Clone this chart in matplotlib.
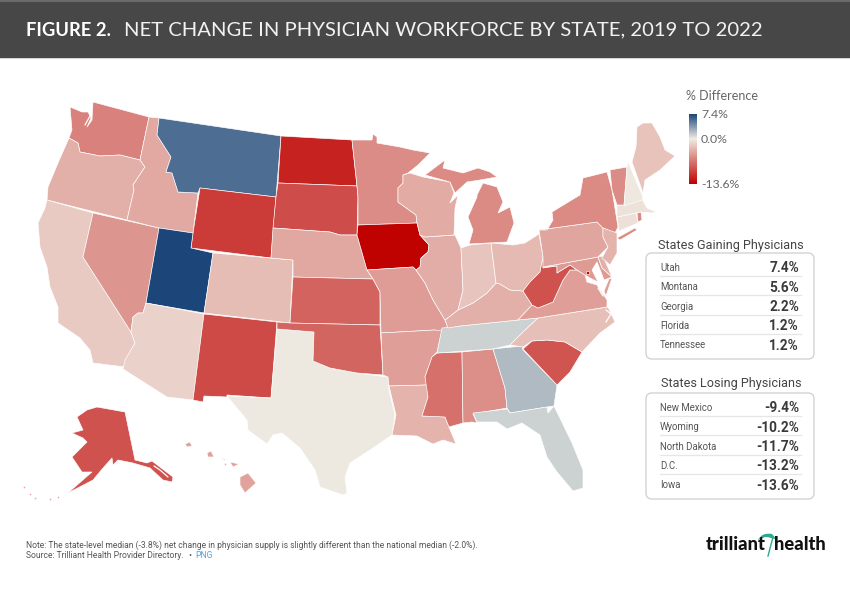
"""Net change in physician workforce by state, 2019 to 2022 (choropleth + top/bottom tables)."""
import numpy as np
import matplotlib
matplotlib.use('Agg')
import matplotlib.pyplot as plt
from matplotlib.colors import LinearSegmentedColormap, Normalize
from matplotlib.patches import FancyBboxPatch, Polygon, Rectangle, PathPatch
from matplotlib.path import Path

# ── Data ─────────────────────────────────────────────────────────────────────

STATES = ['WA', 'OR', 'CA', 'NV', 'ID', 'MT', 'WY', 'UT', 'CO', 'AZ', 'NM', 'TX',
          'ND', 'SD', 'NE', 'KS', 'OK', 'MN', 'IA', 'MO', 'AR', 'LA', 'MS', 'AL',
          'TN', 'KY', 'IL', 'IN', 'OH', 'WI', 'MI', 'GA', 'FL', 'SC', 'NC', 'VA',
          'WV', 'MD', 'DE', 'PA', 'NY', 'NJ', 'CT', 'RI', 'MA', 'VT', 'NH', 'ME',
          'AK', 'HI', 'DC']
PCT_DIFF = [-6.2, -3.5, -2.0, -5.0, -3.9, 5.6, -10.2, 7.4, -2.7, -1.5, -9.4, -0.2,
            -11.7, -9.2, -4.0, -7.9, -7.8, -5.5, -13.6, -4.6, -4.5, -3.3, -7.2, -5.4,
            1.2, -3.5, -3.6, -2.2, -2.9, -3.7, -5.7, 2.2, 1.2, -8.7, -2.6, -4.5,
            -8.9, -4.7, -3.5, -4.1, -5.7, -3.3, -0.7, -5.7, -0.6, -5.5, -0.3, -2.4,
            -8.9, -4.3, -13.2]

GAIN_NAMES = ['Utah', 'Montana', 'Georgia', 'Florida', 'Tennessee']
GAIN_VALUES = ['7.4%', '5.6%', '2.2%', '1.2%', '1.2%']
LOSE_NAMES = ['New Mexico', 'Wyoming', 'North Dakota', 'D.C.', 'Iowa']
LOSE_VALUES = ['-9.4%', '-10.2%', '-11.7%', '-13.2%', '-13.6%']

VMIN, VMID, VMAX = -13.6, 0.0, 7.4

# state outlines, in image pixels (no geodata available here)
OUTLINES = {
    'WA': [[(93, 102), (149, 117), (140, 160), (120, 155), (100, 156), (80, 152), (78, 143), (69, 138),
            (72, 130), (70, 107), (82, 112), (88, 112), (91, 118), (87, 127), (92, 120)]],
    'OR': [[(69, 138), (78, 143), (80, 152), (100, 156), (120, 155), (140, 160), (145, 167), (133, 185),
            (134, 190), (127, 220), (47, 200), (48, 187), (58, 163)]],
    'CA': [[(47, 200), (93, 213), (83, 257), (131, 332), (135, 343), (127, 358), (125, 367), (93, 363),
            (90, 350), (80, 338), (58, 323), (58, 307), (50, 287), (47, 267), (40, 247), (38, 223), (45, 208)]],
    'NV': [[(93, 213), (159, 228), (146, 303), (143, 313), (138, 313), (133, 317), (131, 332), (83, 257)]],
    'ID': [[(149, 117), (159, 118), (157, 135), (171, 157), (166, 172), (172, 173), (178, 192), (198, 193),
            (193, 233), (159, 228), (127, 220), (134, 190), (133, 185), (145, 167), (140, 160)]],
    'MT': [[(159, 118), (281, 136), (276, 197), (200, 188), (198, 193), (178, 192), (172, 173), (166, 172),
            (171, 157), (157, 135)]],
    'WY': [[(200, 188), (276, 197), (271, 258), (191, 248), (193, 233)]],
    'UT': [[(159, 228), (193, 233), (191, 248), (213, 253), (204, 313), (146, 303)]],
    'CO': [[(213, 253), (293, 260), (290, 323), (204, 313)]],
    'AZ': [[(133, 317), (138, 313), (143, 313), (146, 303), (204, 314), (193, 400), (167, 397), (123, 369),
            (125, 360), (135, 343), (131, 332)]],
    'NM': [[(204, 314), (277, 322), (271, 398), (227, 395), (227, 397), (204, 396), (203, 402), (193, 400)]],
    'TX': [[(277, 329), (314, 332), (313, 361), (330, 368), (357, 373), (388, 377), (389, 390), (395, 415),
            (392, 435), (373, 448), (350, 463), (345, 477), (347, 493), (343, 495), (320, 487), (315, 470),
            (300, 448), (282, 433), (273, 435), (267, 444), (248, 430), (247, 420), (227, 396), (271, 398)]],
    'ND': [[(281, 136), (352, 140), (357, 186), (278, 183)]],
    'SD': [[(278, 183), (357, 186), (358, 197), (357, 235), (340, 235), (330, 232), (273, 228), (276, 197)]],
    'NE': [[(273, 228), (330, 232), (340, 235), (357, 235), (367, 270), (373, 279), (293, 277), (293, 260),
            (271, 258)]],
    'KS': [[(293, 277), (373, 279), (380, 292), (380, 325), (290, 323)]],
    'OK': [[(277, 322), (290, 323), (380, 325), (383, 375), (357, 373), (330, 368), (313, 361), (314, 332),
            (277, 329)]],
    'MN': [[(352, 140), (372, 140), (373, 134), (377, 137), (377, 143), (400, 147), (413, 150), (430, 153),
            (418, 165), (408, 173), (403, 175), (403, 183), (398, 188), (398, 202), (416, 215), (417, 223),
            (358, 225), (358, 197), (357, 186)]],
    'IA': [[(358, 225), (417, 223), (420, 235), (429, 245), (428, 252), (421, 258), (420, 267), (416, 270),
            (413, 267), (367, 270), (357, 235)]],
    'MO': [[(367, 270), (413, 267), (416, 270), (425, 283), (433, 300), (445, 320), (448, 328), (442, 331),
            (442, 337), (435, 330), (381, 333), (380, 292), (373, 279)]],
    'AR': [[(381, 333), (435, 330), (442, 331), (437, 352), (432, 357), (425, 377), (427, 385), (389, 386),
            (388, 377), (383, 375)]],
    'LA': [[(389, 386), (427, 385), (428, 397), (422, 416), (445, 417), (449, 427), (456, 444), (443, 440),
            (433, 444), (417, 436), (392, 435), (396, 415)]],
    'MS': [[(437, 353), (462, 352), (463, 423), (449, 427), (445, 417), (422, 416), (428, 397), (425, 377),
            (432, 357)]],
    'AL': [[(462, 352), (493, 349), (505, 388), (507, 408), (473, 414), (477, 423), (472, 422), (463, 423)]],
    'TN': [[(442, 328), (460, 326), (518, 320), (538, 318), (523, 332), (510, 345), (493, 349), (437, 353)]],
    'KY': [[(458, 310), (473, 303), (487, 293), (496, 283), (500, 284), (510, 290), (523, 291), (532, 305),
            (518, 320), (460, 326), (448, 328), (445, 320)]],
    'IL': [[(425, 237), (455, 235), (461, 248), (463, 290), (458, 310), (445, 320), (433, 300), (425, 283),
            (416, 270), (420, 267), (421, 258), (428, 252), (429, 245), (420, 235)]],
    'IN': [[(461, 248), (470, 245), (491, 243), (496, 283), (487, 293), (473, 303), (458, 310), (463, 290)]],
    'OH': [[(491, 243), (513, 245), (525, 243), (539, 234), (543, 257), (540, 272), (530, 282), (523, 291),
            (510, 290), (500, 284), (496, 283)]],
    'WI': [[(403, 175), (410, 173), (423, 177), (450, 182), (454, 193), (450, 203), (458, 195), (455, 208),
            (454, 235), (425, 237), (420, 235), (417, 223), (416, 215), (398, 202), (398, 188), (403, 183)]],
    'MI': [[(469, 244), (507, 242), (514, 223), (510, 207), (498, 213), (503, 202), (497, 187), (483, 183),
            (477, 195), (477, 197), (468, 217), (473, 230)],
           [(425, 175), (445, 160), (443, 168), (463, 173), (478, 168), (490, 172), (497, 177), (480, 180),
            (467, 182), (455, 193), (450, 182)]],
    'GA': [[(493, 349), (522, 346), (523, 350), (557, 385), (554, 406), (547, 407), (510, 413), (507, 408),
            (505, 388)]],
    'FL': [[(473, 413), (507, 409), (510, 413), (547, 407), (548, 413), (554, 406), (572, 443), (583, 470),
            (583, 488), (573, 491), (557, 472), (547, 457), (540, 435), (522, 423), (507, 429), (497, 422),
            (477, 422)]],
    'SC': [[(523, 349), (532, 341), (547, 340), (565, 342), (582, 352), (570, 372), (557, 385)]],
    'NC': [[(538, 318), (608, 307), (615, 322), (600, 333), (582, 352), (565, 342), (547, 340), (532, 341),
            (523, 347), (510, 345), (523, 332)]],
    'VA': [[(518, 320), (532, 305), (538, 308), (553, 302), (563, 280), (570, 270), (577, 270), (585, 275),
            (587, 282), (597, 285), (607, 300), (607, 307), (538, 318)],
           [(609, 279), (612, 278), (606, 296), (604, 291)]],
    'WV': [[(523, 291), (530, 282), (540, 272), (543, 257), (543, 268), (557, 266), (557, 273), (570, 265),
            (577, 270), (570, 270), (563, 280), (553, 302), (538, 308), (532, 305)]],
    'MD': [[(543, 267), (598, 257), (602, 268), (612, 277), (604, 280), (601, 272), (597, 262), (592, 270),
            (598, 282), (590, 278), (585, 275), (577, 270), (570, 265), (557, 273), (557, 266)]],
    'DE': [[(598, 257), (603, 256), (612, 277), (602, 268)]],
    'PA': [[(539, 230), (597, 222), (603, 228), (603, 237), (608, 247), (602, 253), (598, 257), (543, 267),
            (543, 257)]],
    'NY': [[(539, 230), (547, 230), (553, 220), (552, 212), (580, 195), (583, 178), (607, 172), (612, 190),
            (618, 227), (615, 233), (603, 228), (597, 222)],
           [(617, 238), (635, 228), (637, 230), (620, 240)]],
    'NJ': [[(603, 228), (617, 233), (617, 253), (610, 265), (602, 258), (608, 247), (603, 237)]],
    'CT': [[(617, 217), (636, 213), (638, 223), (619, 231)]],
    'RI': [[(637, 213), (641, 212), (642, 220), (638, 222)]],
    'MA': [[(617, 206), (642, 199), (647, 208), (656, 212), (652, 213), (641, 212), (617, 217)]],
    'VT': [[(610, 170), (627, 167), (624, 205), (617, 205), (612, 190)]],
    'NH': [[(628, 162), (643, 197), (642, 200), (624, 206), (627, 167)]],
    'ME': [[(637, 127), (643, 123), (652, 123), (660, 137), (665, 150), (675, 156), (660, 170), (645, 180),
            (643, 193), (632, 162), (636, 147)]],
    'AK': [[(97, 407), (125, 412), (135, 460), (147, 463), (152, 461), (173, 477), (172, 482), (163, 480),
            (150, 468), (133, 463), (118, 460), (113, 465), (112, 458), (103, 468), (93, 480), (68, 493),
            (92, 472), (82, 472), (72, 457), (87, 442), (83, 438), (72, 433), (83, 430), (77, 417), (87, 410)]],
    'HI': [[(240, 477), (248, 473), (256, 483), (245, 493), (240, 485)],
           [(230, 462), (239, 464), (233, 467)], [(207, 453), (211, 451), (214, 457), (208, 457)],
           [(185, 444), (190, 442), (192, 446), (187, 447)], [(221, 458), (228, 460), (224, 460)],
           [(224, 463), (227, 464), (225, 466)]],
    'DC': [[(586, 271), (589, 271), (589, 274), (586, 274)]],
}

# water cut back into the shapes: Puget Sound, Chesapeake inlets, Pamlico, SE Alaska
WATER_LINES = [
    [(91, 106), (90, 116), (85, 125)],
    [(598, 288), (603, 296)],
    [(606, 310), (611, 314), (606, 322)],
    [(154, 466), (160, 470), (168, 477)],
]
ALEUTIANS = [(24, 487), (30, 494), (35, 498), (50, 499), (58, 497)]

COLORS = ['#BF0100', '#EFECE3', '#1C4679']


def main():
    frac = (VMID - VMIN) / (VMAX - VMIN)
    cmap = LinearSegmentedColormap.from_list('pct', [(0, COLORS[0]), (frac, COLORS[1]), (1, COLORS[2])])
    norm = Normalize(VMIN, VMAX)

    fig = plt.figure(figsize=(8.5, 5.92), dpi=100, facecolor='white')
    ax = fig.add_axes([0, 0, 1, 1])

    # header band
    ax.add_patch(Rectangle((0, 0), 850, 58, facecolor='#474747', edgecolor='none'))
    ax.add_patch(Rectangle((0, 0), 850, 1.5, facecolor='#6a6a6a', edgecolor='none'))
    ax.add_patch(Rectangle((0, 58), 850, 1, facecolor='#d5d5d5', edgecolor='none'))
    ax.text(26, 31, 'FIGURE 2.', color='white', fontsize=13.2, family='Lato', fontweight='bold',
            va='center', ha='left')
    ax.text(124, 30, 'NET CHANGE IN PHYSICIAN WORKFORCE BY STATE, 2019 TO 2022', color='#f2f2f2',
            fontsize=14.6, family='Lato', va='center', ha='left')

    # map
    for state, val in zip(STATES, PCT_DIFF):
        for ring in OUTLINES[state]:
            ax.add_patch(Polygon(ring, closed=True, facecolor=cmap(norm(val)), edgecolor='white',
                                 linewidth=0.45, joinstyle='round'))
    for line in WATER_LINES:
        xs, ys = zip(*line)
        ax.plot(xs, ys, color='white', linewidth=0.9, solid_capstyle='round')
    xs, ys = zip(*ALEUTIANS)
    ax.scatter(xs, ys, s=1.5, color=cmap(norm(-8.9)), alpha=0.5, linewidths=0)

    # colour legend
    ramp = np.linspace(VMAX, VMIN, 200).reshape(-1, 1)
    ax.imshow(ramp, cmap=cmap, norm=norm, extent=(689, 697, 184, 114), aspect='auto', zorder=2)
    ax.text(686, 96, '% Difference', fontsize=9, color='#666666', family='Lato', va='center')
    for val, label in zip([VMAX, VMID, VMIN], ['7.4%', '0.0%', '-13.6%']):
        ypos = 114 + (VMAX - val) / (VMAX - VMIN) * 70
        ax.text(701, ypos + 0.5, label, fontsize=8.8, color='#666666', family='Lato', va='center')

    # tables
    draw_table(ax, 'States Gaining Physicians', 731, 245, 253, GAIN_NAMES, GAIN_VALUES)
    draw_table(ax, 'States Losing Physicians', 731, 384, 393, LOSE_NAMES, LOSE_VALUES)

    # footer
    ax.text(26, 545, 'Note: The state-level median (-3.8%) net change in physician supply is slightly '
            'different than the national median (-2.0%).', fontsize=6.15, color='#555555',
            family='Roboto', va='center')
    ax.text(26, 555, 'Source: Trilliant Health Provider Directory.', fontsize=6.15, color='#555555',
            family='Roboto', va='center')
    ax.text(188, 555, '\u2022', fontsize=6.15, color='#555555', family='Roboto', va='center')
    ax.text(195, 555, 'PNG', fontsize=6.15, color='#4AA3E8', family='Roboto', va='center')

    # logo
    ax.text(706, 545, 'trilliant', fontsize=13.2, color='#111111', family='Lato', fontweight='black',
            va='center', ha='left')
    ax.text(826, 545, 'health', fontsize=13.2, color='#111111', family='Lato', fontweight='black',
            va='center', ha='right')
    ax.plot([768, 773], [556, 537], color='#2FA98C', linewidth=1)
    swoosh = Path([(758, 540), (762, 532), (772, 534), (777, 540), (771, 537), (765, 537), (758, 540)],
                  [Path.MOVETO, Path.CURVE3, Path.CURVE3, Path.LINETO, Path.CURVE3, Path.CURVE3, Path.CLOSEPOLY])
    ax.add_patch(PathPatch(swoosh, facecolor='#2FA98C', edgecolor='none'))

    ax.set_xlim(0, 850)
    ax.set_ylim(592, 0)
    ax.axis('off')
    fig.savefig('out.png', dpi=100, facecolor='white')
    plt.close(fig)


def draw_table(ax, title, title_x, title_y, box_top, names, values):
    ax.text(title_x, title_y, title, fontsize=9.1, color='#444444', family='Roboto', va='center', ha='center')
    ax.add_patch(FancyBboxPatch((646, box_top), 168, 106, boxstyle='round,pad=0,rounding_size=6',
                                facecolor='white', edgecolor='#cfcfcf', linewidth=0.9,
                                mutation_aspect=1, zorder=1))
    for i, (name, val) in enumerate(zip(names, values)):
        ypos = box_top + 15 + i * 19.3
        ax.text(660, ypos, name, fontsize=6.9, color='#555555', family='Roboto', va='center', zorder=3)
        ax.text(799, ypos + 0.5, val, fontsize=9.8, color='#3a3a3a', family='Roboto', fontweight='bold',
                va='center', ha='right', zorder=3)
        if i < 4:
            ax.plot([660, 801], [ypos + 8, ypos + 8], color='#e6e6e6', linewidth=0.9, zorder=2)


if __name__ == '__main__':
    main()
